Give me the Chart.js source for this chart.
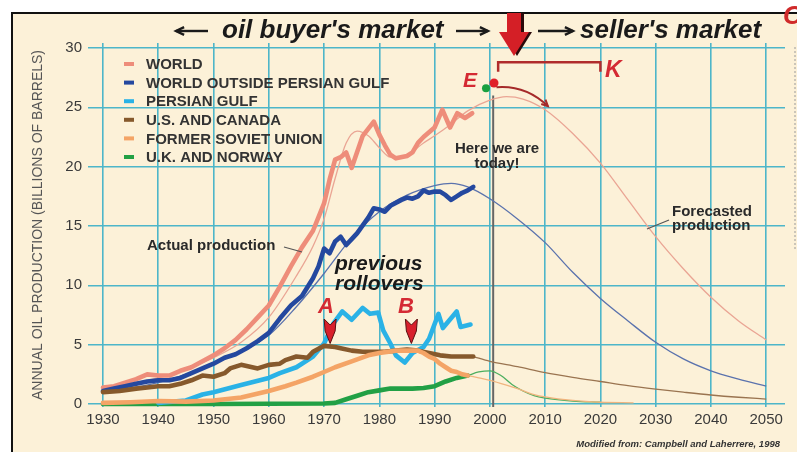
<!DOCTYPE html>
<html lang="en">
<head>
<meta charset="UTF-8">
<title>Annual oil production - buyer's and seller's market</title>
<script src="https://cdn.jsdelivr.net/npm/chart.js"></script>
<style>
  html, body { margin: 0; padding: 0; background: #fff; }
  canvas { display: block; }
</style>
</head>
<body>
<canvas id="oilChart" width="797" height="452"></canvas>
<script>
// axis ticks
const xTicks = [1930, 1940, 1950, 1960, 1970, 1980, 1990, 2000, 2010, 2020, 2030, 2040, 2050];
const yTicks = [0, 5, 10, 15, 20, 25, 30];

const seriesNames = ['WORLD', 'WORLD OUTSIDE PERSIAN GULF', 'PERSIAN GULF', 'U.S. AND CANADA', 'FORMER SOVIET UNION', 'U.K. AND NORWAY'];

// actual production (billions of barrels)
const worldYears = [1930, 1932, 1934, 1936, 1938, 1940, 1942, 1944, 1946, 1948, 1950, 1952, 1954, 1956, 1958, 1960, 1962, 1964, 1966, 1968, 1970, 1971, 1972, 1973, 1974, 1975, 1977, 1979, 1980, 1981, 1982, 1983, 1985, 1986, 1987, 1988, 1990, 1991.4, 1992.8, 1994.1, 1995.5, 1996.8];
const worldActual = [1.4, 1.5, 1.8, 2.1, 2.5, 2.4, 2.4, 2.8, 3.1, 3.6, 4.1, 4.7, 5.4, 6.3, 7.3, 8.3, 9.9, 11.6, 13.2, 14.6, 16.9, 18.9, 20.6, 20.8, 21.2, 19.9, 22.6, 23.8, 22.7, 21.8, 21.0, 20.7, 20.9, 21.2, 22.0, 22.5, 23.3, 24.8, 23.3, 24.5, 24.1, 24.5];

const outsideYears = [1930, 1932, 1934, 1936, 1938, 1940, 1942, 1944, 1946, 1948, 1950, 1952, 1954, 1956, 1958, 1960, 1962, 1964, 1966, 1968, 1969, 1970, 1971, 1972, 1973, 1974, 1975, 1976, 1978, 1979, 1980, 1981, 1982, 1984, 1985, 1986, 1987, 1988, 1989, 1990, 1991, 1992, 1993, 1994, 1995, 1996, 1997];
const outsideActual = [1.1, 1.3, 1.5, 1.7, 1.9, 2.0, 2.0, 2.2, 2.6, 3.0, 3.4, 3.9, 4.2, 4.7, 5.3, 6.0, 7.2, 8.3, 9.1, 10.6, 11.6, 13.1, 12.7, 13.7, 14.1, 13.4, 13.9, 14.4, 15.7, 16.5, 16.4, 16.2, 16.7, 17.2, 17.4, 17.3, 17.5, 18.0, 17.8, 17.9, 17.9, 17.6, 17.2, 17.5, 17.8, 18.0, 18.3];

const gulfYears = [1940, 1945, 1948, 1950, 1955, 1960, 1962, 1965, 1968, 1970, 1971.7, 1973.3, 1975, 1977, 1978.3, 1979.8, 1980.7, 1982, 1983, 1984.6, 1986, 1988, 1989, 1990.7, 1991.5, 1994, 1994.7, 1996.5];
const gulfActual = [0.1, 0.3, 0.8, 1.0, 1.6, 2.2, 2.6, 3.1, 4.0, 5.1, 6.8, 7.8, 7.1, 8.1, 7.6, 7.7, 6.2, 5.1, 4.1, 3.5, 4.3, 4.8, 5.5, 7.6, 6.4, 7.8, 6.5, 6.7];

const usYears = [1930, 1933, 1936, 1938, 1940, 1942, 1944, 1946, 1948, 1950, 1952, 1953, 1955, 1957, 1958, 1960, 1962, 1963, 1965, 1967, 1968, 1970, 1972, 1973, 1975, 1977, 1979, 1981, 1983, 1985, 1987, 1989, 1991, 1993, 1995, 1997];
const usActual = [1.0, 1.1, 1.3, 1.4, 1.5, 1.5, 1.7, 2.0, 2.4, 2.3, 2.6, 3.0, 3.3, 3.1, 3.0, 3.3, 3.4, 3.7, 4.0, 3.9, 4.4, 4.9, 4.8, 4.7, 4.5, 4.4, 4.4, 4.4, 4.5, 4.6, 4.5, 4.3, 4.1, 4.0, 4.0, 4.0];

const fsuYears = [1930, 1935, 1940, 1945, 1950, 1955, 1960, 1963, 1965, 1968, 1970, 1972, 1975, 1978, 1980, 1983, 1985, 1987, 1988, 1989, 1990, 1991, 1992, 1993, 1994, 1995, 1996];
const fsuActual = [0.1, 0.15, 0.25, 0.2, 0.3, 0.55, 1.1, 1.5, 1.8, 2.3, 2.7, 3.1, 3.6, 4.1, 4.3, 4.5, 4.5, 4.5, 4.3, 4.0, 3.8, 3.4, 3.1, 2.8, 2.7, 2.5, 2.4];

const ukYears = [1930, 1940, 1950, 1960, 1970, 1972, 1974, 1976, 1978, 1980, 1982, 1984, 1986, 1988, 1990, 1992, 1994, 1996];
const ukActual = [0, 0, 0, 0.02, 0.05, 0.1, 0.4, 0.7, 1.0, 1.15, 1.3, 1.3, 1.3, 1.35, 1.5, 1.9, 2.2, 2.4];

// fitted / forecasted production
const worldFitYears = [1930, 1935, 1940, 1945, 1950, 1955, 1960, 1965, 1968, 1970, 1972, 1974, 1976, 1978, 1980, 1982, 1985, 1988, 1990, 1993, 1996, 2000, 2003, 2006, 2010, 2015, 2020, 2025, 2030, 2035, 2040, 2045, 2050];
const worldFit = [1.3, 1.7, 2.2, 2.9, 3.9, 5.2, 7.3, 10.8, 13.3, 15.6, 19.0, 22.0, 23.0, 22.6, 21.6, 20.8, 21.0, 22.0, 22.6, 23.6, 24.7, 25.6, 25.9, 25.7, 24.8, 22.8, 20.3, 17.2, 14.1, 11.4, 9.0, 7.0, 5.4];

const outsideFitYears = [1930, 1940, 1950, 1960, 1965, 1970, 1975, 1980, 1985, 1990, 1993, 1996, 2000, 2005, 2010, 2015, 2020, 2025, 2030, 2035, 2040, 2045, 2050];
const outsideFit = [1.0, 1.8, 3.4, 5.8, 8.2, 11.0, 14.0, 16.2, 17.6, 18.4, 18.6, 18.3, 17.3, 15.6, 13.6, 11.1, 8.9, 7.0, 5.2, 3.8, 2.8, 2.1, 1.5];

const usFitYears = [1997, 2000, 2005, 2010, 2015, 2020, 2025, 2030, 2035, 2040, 2045, 2050];
const usFit = [4.0, 3.6, 3.15, 2.65, 2.25, 1.9, 1.55, 1.26, 1.0, 0.76, 0.57, 0.42];

const fsuFitYears = [1996, 1998, 2000, 2003, 2005, 2008, 2010, 2015, 2020, 2026];
const fsuFit = [2.4, 2.2, 2.0, 1.6, 1.3, 0.8, 0.6, 0.3, 0.15, 0.1];

const ukFitYears = [1996, 1998, 2000, 2002, 2004, 2006, 2008, 2010, 2015, 2020];
const ukFit = [2.4, 2.7, 2.8, 2.4, 1.65, 1.1, 0.7, 0.5, 0.25, 0.15];

// the two dots near E
const peakYears = [1999.3, 2000.75];
const peakValues = [26.6, 27.05];

const todayYear = 2000.6;

const colors = {
  world: '#ee8d7a', outside: '#24489f', gulf: '#2ab2e6', us: '#86592c', fsu: '#f4a466', uk: '#22a045',
  worldThin: '#eaa594', outsideThin: '#5a72ad', usThin: '#9a7450', fsuThin: '#f0b47e', ukThin: '#4cae5e'
};

function pts(xs, ys) {
  return xs.map((x, i) => ({ x: x, y: ys[i] }));
}

function thick(label, xs, ys, color, order) {
  return { label: label, data: pts(xs, ys), borderColor: color, borderWidth: 4.6, pointRadius: 0,
           tension: 0, borderJoinStyle: 'round', borderCapStyle: 'round', order: order };
}
function thin(xs, ys, color, order) {
  return { label: '', data: pts(xs, ys), borderColor: color, borderWidth: 1.3, pointRadius: 0,
           cubicInterpolationMode: 'monotone', order: order };
}

const font = 'Liberation Sans, Arial, sans-serif';

function arrowTip(ctx, x, y, ang, len) {
  ctx.beginPath();
  ctx.moveTo(x - len * Math.cos(ang - 0.45), y - len * Math.sin(ang - 0.45));
  ctx.lineTo(x, y);
  ctx.lineTo(x - len * Math.cos(ang + 0.45), y - len * Math.sin(ang + 0.45));
  ctx.stroke();
}

function downMarker(ctx, x, top, tip) {
  ctx.beginPath();
  ctx.moveTo(x - 6, top);
  ctx.lineTo(x, top + 6);
  ctx.lineTo(x + 6, top);
  ctx.lineTo(x + 5, top + 12);
  ctx.lineTo(x, tip);
  ctx.lineTo(x - 5, top + 12);
  ctx.closePath();
  ctx.fillStyle = '#d8202c';
  ctx.fill();
  ctx.strokeStyle = '#5a1010';
  ctx.lineWidth = 1;
  ctx.stroke();
}

const decor = {
  id: 'decor',
  beforeDraw(chart) {
    const ctx = chart.ctx;
    ctx.save();
    ctx.fillStyle = '#fff';
    ctx.fillRect(0, 0, chart.width, chart.height);
    ctx.fillStyle = '#fcf1d8';
    ctx.fillRect(12, 13, chart.width - 12, chart.height - 13);
    ctx.fillStyle = '#111';
    ctx.fillRect(11, 12, chart.width - 11, 2);
    ctx.fillRect(11, 12, 2, chart.height - 12);
    ctx.restore();
  },
  beforeDatasetsDraw(chart) {
    const ctx = chart.ctx, xs = chart.scales.x, ys = chart.scales.y;
    ctx.save();
    ctx.strokeStyle = '#666';
    ctx.lineWidth = 2;
    ctx.beginPath();
    ctx.moveTo(xs.getPixelForValue(todayYear), ys.getPixelForValue(26.0));
    ctx.lineTo(xs.getPixelForValue(todayYear), chart.chartArea.bottom);
    ctx.stroke();
    ctx.restore();
  },
  afterDraw(chart) {
    const ctx = chart.ctx, xs = chart.scales.x, ys = chart.scales.y;
    const px = v => xs.getPixelForValue(v), py = v => ys.getPixelForValue(v);
    ctx.save();

    // header
    ctx.fillStyle = '#1a1a1a';
    ctx.strokeStyle = '#1a1a1a';
    ctx.lineWidth = 2.4;
    ctx.font = 'italic bold 26px ' + font;
    ctx.textBaseline = 'alphabetic';
    ctx.textAlign = 'left';
    ctx.fillText("oil buyer's market", 222, 38);
    ctx.fillText("seller's market", 580, 38);
    [[208, 176], [456, 488], [538, 573]].forEach(a => {
      ctx.beginPath();
      ctx.moveTo(a[0], 31);
      ctx.lineTo(a[1], 31);
      ctx.stroke();
      arrowTip(ctx, a[1], 31, a[1] > a[0] ? 0 : Math.PI, 9);
    });

    // big red arrow
    const arrow = dx => {
      ctx.beginPath();
      ctx.moveTo(507 + dx, 13); ctx.lineTo(521 + dx, 13); ctx.lineTo(521 + dx, 32);
      ctx.lineTo(529 + dx, 32); ctx.lineTo(514 + dx, 56); ctx.lineTo(499 + dx, 32);
      ctx.lineTo(507 + dx, 32); ctx.closePath(); ctx.fill();
    };
    ctx.fillStyle = '#2a0a0a'; arrow(3);
    ctx.fillStyle = '#d41f26'; arrow(0);

    ctx.fillStyle = '#d02a2a';
    ctx.font = 'italic bold 26px ' + font;
    ctx.fillText('C', 783, 24);

    ctx.strokeStyle = '#9a9a9a';
    ctx.lineWidth = 1;
    ctx.setLineDash([2, 2]);
    ctx.beginPath(); ctx.moveTo(795, 47); ctx.lineTo(795, 250); ctx.stroke();
    ctx.setLineDash([]);

    // legend
    const legendColors = [colors.world, colors.outside, colors.gulf, colors.us, colors.fsu, colors.uk];
    ctx.font = 'bold 15px ' + font;
    ctx.textBaseline = 'middle';
    seriesNames.forEach((name, i) => {
      const y = 64 + i * 18.6;
      ctx.fillStyle = legendColors[i];
      ctx.fillRect(124, y - 2, 10, 4);
      ctx.fillStyle = '#333';
      ctx.fillText(name, 146, y + 1);
    });

    // labels
    ctx.fillStyle = '#2a2a2a';
    ctx.font = 'bold 15px ' + font;
    ctx.fillText('Actual production', 147, 246);
    ctx.fillText('Forecasted', 672, 212);
    ctx.fillText('production', 672, 226);
    ctx.textAlign = 'center';
    ctx.fillText('Here we are', 497, 149);
    ctx.fillText('today!', 497, 164);
    ctx.strokeStyle = '#555';
    ctx.lineWidth = 1.2;
    ctx.beginPath(); ctx.moveTo(284, 247); ctx.lineTo(302, 252); ctx.stroke();
    ctx.beginPath(); ctx.moveTo(669, 220); ctx.lineTo(647, 229); ctx.stroke();

    ctx.textAlign = 'left';
    ctx.textBaseline = 'alphabetic';
    ctx.font = 'italic bold 21px ' + font;
    ctx.fillStyle = '#1a1a1a';
    ctx.fillText('previous', 335, 270);
    ctx.fillText('rollovers', 335, 290);

    // rollover markers A and B
    ctx.fillStyle = '#d42a33';
    ctx.font = 'italic bold 22px ' + font;
    ctx.fillText('A', 318, 313);
    ctx.fillText('B', 398, 313);
    downMarker(ctx, px(1971.1), 319, py(5.1));
    downMarker(ctx, px(1985.8), 319, py(5.1));

    // peak annotation
    ctx.fillStyle = '#d42a33';
    ctx.font = 'italic bold 21px ' + font;
    ctx.fillText('E', 463, 87);
    ctx.font = 'italic bold 23px ' + font;
    ctx.fillText('K', 605, 77);
    ctx.strokeStyle = '#b02c2c';
    ctx.lineWidth = 2.5;
    ctx.beginPath();
    ctx.moveTo(px(2001.5), py(28.0)); ctx.lineTo(px(2001.5), py(28.8));
    ctx.lineTo(px(2020), py(28.8)); ctx.lineTo(px(2020), py(28.0));
    ctx.stroke();
    ctx.strokeStyle = '#a52a2a';
    ctx.lineWidth = 2;
    const sx = px(2001.2), sy = py(26.7), ex = px(2010.5), ey = py(25.1);
    const cx = px(2006.5), cy = py(26.9);
    ctx.beginPath(); ctx.moveTo(sx, sy); ctx.quadraticCurveTo(cx, cy, ex, ey); ctx.stroke();
    arrowTip(ctx, ex, ey, Math.atan2(ey - cy, ex - cx), 7);

    ctx.fillStyle = '#333';
    ctx.font = 'italic bold 9.5px ' + font;
    ctx.textAlign = 'right';
    ctx.fillText('Modified from: Campbell and Laherrere, 1998', 780, 447);
    ctx.restore();
  }
};

new Chart(document.getElementById('oilChart'), {
  type: 'line',
  data: {
    datasets: [
      { label: 'peak', data: pts(peakYears, peakValues), showLine: false, pointRadius: [4, 4.5],
        pointBackgroundColor: ['#1aa040', '#e0202a'], pointBorderWidth: 0, order: 0 },
      thick(seriesNames[4], fsuYears, fsuActual, colors.fsu, 1),
      thick(seriesNames[3], usYears, usActual, colors.us, 2),
      thick(seriesNames[2], gulfYears, gulfActual, colors.gulf, 3),
      thick(seriesNames[5], ukYears, ukActual, colors.uk, 4),
      thick(seriesNames[1], outsideYears, outsideActual, colors.outside, 5),
      thick(seriesNames[0], worldYears, worldActual, colors.world, 6),
      thin(worldFitYears, worldFit, colors.worldThin, 10),
      thin(outsideFitYears, outsideFit, colors.outsideThin, 11),
      thin(usFitYears, usFit, colors.usThin, 12),
      thin(fsuFitYears, fsuFit, colors.fsuThin, 13),
      thin(ukFitYears, ukFit, colors.ukThin, 14)
    ]
  },
  options: {
    responsive: false,
    animation: false,
    layout: { padding: { left: 0, top: 43, right: 12, bottom: 0 } },
    plugins: { legend: { display: false }, tooltip: { enabled: false } },
    scales: {
      x: {
        type: 'linear',
        min: 1927.29,
        max: 2053.4,
        afterBuildTicks: s => { s.ticks = xTicks.map(v => ({ value: v })); },
        afterFit: s => { s.height = 45; },
        grid: { color: '#4db6c9', lineWidth: 1.6, drawTicks: false },
        border: { display: false },
        ticks: { padding: 4, color: '#3a3a3a', font: { family: font, size: 15 }, maxRotation: 0,
                 callback: v => String(v) }
      },
      y: {
        min: -0.25,
        max: 30.42,
        afterBuildTicks: s => { s.ticks = yTicks.map(v => ({ value: v })); },
        afterFit: s => { s.width = 88; },
        grid: { color: '#4db6c9', lineWidth: 1.6, drawTicks: false },
        border: { display: false },
        ticks: { padding: 6, color: '#3a3a3a', font: { family: font, size: 15 } },
        title: { display: true, text: 'ANNUAL OIL PRODUCTION (BILLIONS OF BARRELS)', color: '#555',
                 font: { family: font, size: 14 }, padding: { top: 30, bottom: 0 } }
      }
    }
  },
  plugins: [decor]
});
</script>
</body>
</html>
